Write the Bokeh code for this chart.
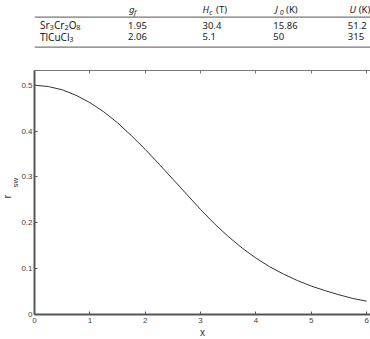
from bokeh.plotting import figure
from bokeh.layouts import column
from bokeh.models import LinearAxis, Range1d, FixedTicker, Title
from bokeh.core.properties import value
from bokeh.embed import file_html
from bokeh.resources import INLINE

# ---- data ----
x_vals = [0, 0.25, 0.5, 0.75, 1, 1.25, 1.5, 1.75, 2, 2.25, 2.5, 2.75, 3,
          3.25, 3.5, 3.75, 4, 4.25, 4.5, 4.75, 5, 5.25, 5.5, 5.75, 6]
r_sw = [0.500, 0.497, 0.490, 0.478, 0.462, 0.442, 0.418, 0.390, 0.360,
        0.328, 0.295, 0.262, 0.229, 0.198, 0.170, 0.145, 0.123, 0.104,
        0.088, 0.074, 0.062, 0.052, 0.043, 0.035, 0.029]
x_ticks = [0, 1, 2, 3, 4, 5, 6]
y_ticks = [0, 0.1, 0.2, 0.3, 0.4, 0.5]
y_tick_labels = ["0", "0.1", "0.2", "0.3", "0.4", "0.5"]

# compound formulas as (text, is_subscript) pieces
compounds = [[("Sr", False), ("3", True), ("Cr", False), ("2", True), ("O", False), ("8", True)],
             [("TlCuCl", False), ("3", True)]]
g_f = ["1.95", "2.06"]
H_c = ["30.4", "5.1"]
J_0 = ["15.86", "50"]
U = ["51.2", "315"]

TFONT = value("Noto Sans")
PFONT = "Liberation Sans"
ADV = {"S": 0.60, "r": 0.43, "C": 0.69, "O": 0.80, "T": 0.61, "l": 0.28,
       "u": 0.64}
DIGIT = 0.60


def text_w(s, size):
    return sum(ADV.get(ch, DIGIT) for ch in s) * size


# ---- table figure ----
t = figure(width=370, height=50, x_range=Range1d(0, 370), y_range=Range1d(50, 0),
           toolbar_location=None, output_backend="svg", min_border=0)
t.axis.visible = False
t.grid.visible = False
t.outline_line_color = None

col_x = [6, 103, 185, 263, 345]
row_y = [24.5, 36]
MAIN, SUB = 10.0, 7.5
main_x, main_y, main_t, sub_x, sub_y, sub_t = [], [], [], [], [], []
for ry, parts in zip(row_y, compounds):
    cx = col_x[0]
    for txt, is_sub in parts:
        if is_sub:
            sub_x.append(cx); sub_y.append(ry + 2.5); sub_t.append(txt)
            cx += text_w(txt, SUB) + 0.3
        else:
            main_x.append(cx); main_y.append(ry); main_t.append(txt)
            cx += text_w(txt, MAIN) + 0.3
t.text(x=main_x, y=main_y, text=main_t, text_font=TFONT, text_font_size=f"{MAIN}px",
       text_baseline="middle", text_color="#222222")
t.text(x=sub_x, y=sub_y, text=sub_t, text_font=TFONT, text_font_size=f"{SUB}px",
       text_baseline="middle", text_color="#222222")

for cx, vals in zip(col_x[1:], [g_f, H_c, J_0, U]):
    t.text(x=[cx] * len(vals), y=row_y, text=vals, text_font=TFONT,
           text_font_size="9.5px", text_baseline="middle", text_color="#222222")

hy = 9
hdr_main = [(104, "g"), (185, "H"), (265, "J"), (347, "U")]
hdr_sub = [(109.5, "f"), (192.5, "c"), (270, "0")]
hdr_unit = [(200, "(T)"), (277, "(K)"), (357, "(K)")]
t.text(x=[h[0] for h in hdr_main], y=[hy] * 4, text=[h[1] for h in hdr_main],
       text_font=TFONT, text_font_size="9.5px", text_font_style="italic",
       text_baseline="middle", text_color="#222222")
t.text(x=[s[0] for s in hdr_sub], y=[hy + 2.5] * len(hdr_sub), text=[s[1] for s in hdr_sub],
       text_font=TFONT, text_font_size="7px", text_font_style="italic",
       text_baseline="middle", text_color="#222222")
t.text(x=[u[0] for u in hdr_unit], y=[hy] * len(hdr_unit), text=[u[1] for u in hdr_unit],
       text_font=TFONT, text_font_size="9.5px",
       text_baseline="middle", text_color="#222222")
t.segment(x0=[0, 0], x1=[370, 370], y0=[16.7, 46.7], y1=[16.7, 46.7],
          line_color="#777777", line_width=1.2)

# ---- plot figure ----
XMAX, YMAX = 6.07, 0.532
p = figure(frame_width=336, frame_height=244,
           x_range=Range1d(0, XMAX), y_range=Range1d(0, YMAX),
           toolbar_location=None, output_backend="svg",
           min_border_left=34, min_border_right=0, min_border_top=20, min_border_bottom=25,
           x_axis_location=None, y_axis_location=None)
p.grid.visible = False
p.outline_line_color = None


def style_axis(ax, width=2, color="#555555"):
    ax.axis_line_color = color
    ax.axis_line_width = width
    ax.major_tick_line_color = color
    ax.major_tick_in = 3
    ax.major_tick_out = 0
    ax.minor_tick_line_color = None
    ax.major_label_text_font = PFONT
    ax.major_label_text_font_size = "8px"
    ax.major_label_text_color = "#444444"


xb = LinearAxis(ticker=FixedTicker(ticks=x_ticks), axis_label="x")
style_axis(xb)
xb.major_label_standoff = 3
xb.axis_label_standoff = 1
xb.axis_label_text_font = PFONT
xb.axis_label_text_font_size = "10px"
xb.axis_label_text_font_style = "normal"
xb.axis_label_text_color = "#333333"
p.add_layout(xb, "below")

yl = LinearAxis(ticker=FixedTicker(ticks=y_ticks),
                major_label_overrides={t_: l for t_, l in zip(y_ticks, y_tick_labels)})
style_axis(yl)
yl.major_label_standoff = 2
p.add_layout(yl, "left")

# y-axis label r_sw as two stacked left titles (subscript closer to the frame)
p.add_layout(Title(text="sw", align="left", offset=314 - 187, standoff=-3,
                   text_font=PFONT, text_font_size="8px", text_font_style="normal",
                   text_color="#333333", text_line_height=0.9), "left")
p.add_layout(Title(text="r", align="left", offset=314 - 198, standoff=-4,
                   text_font=PFONT, text_font_size="11px", text_font_style="normal",
                   text_color="#333333", text_line_height=0.9), "left")

xt = LinearAxis(ticker=FixedTicker(ticks=x_ticks))
style_axis(xt, width=1, color="#777777")
xt.major_label_text_color = None
xt.major_label_standoff = 0
p.add_layout(xt, "above")

p.line(x_vals, r_sw, line_color="#333333", line_width=1)

layout = column(t, p, spacing=0)
open("out.html", "w").write(file_html(layout, INLINE))
